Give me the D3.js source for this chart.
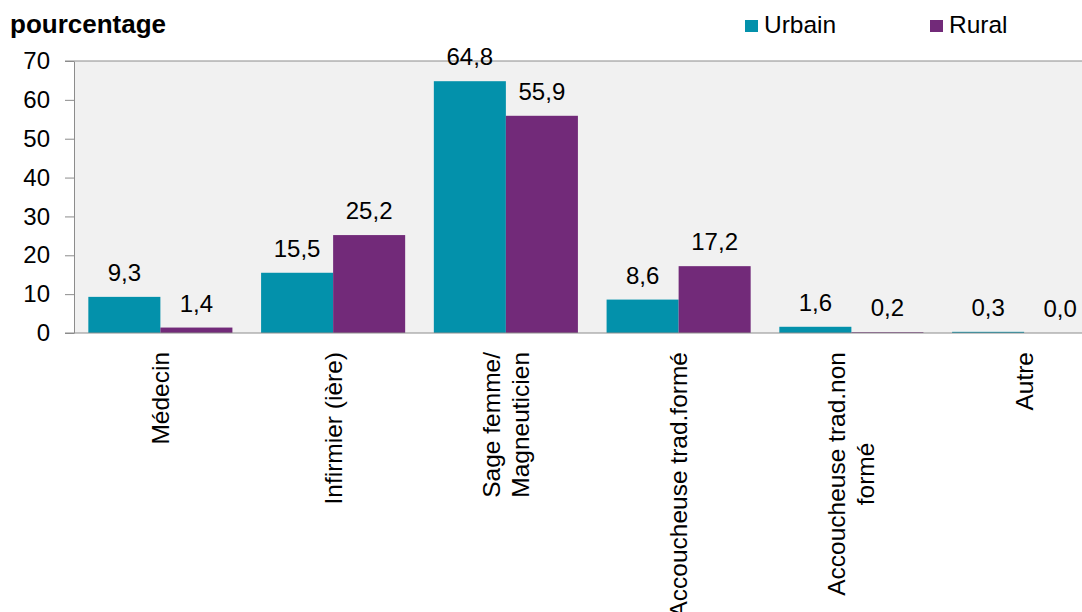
<!DOCTYPE html>
<html>
<head>
<meta charset="utf-8">
<script src="https://cdn.jsdelivr.net/npm/d3@7"></script>
<style>
    body { margin: 0; background: #fff; }
    svg { display: block; font-family: 'Liberation Sans', Arial, sans-serif; }
    .axis path, .axis line { stroke: #8c8c8c; }
    .axis text { font-size: 24px; fill: #000; }
</style>
</head>
<body>
<script>
(function() {

    // Data
    var categories = ['Médecin', 'Infirmier (ière)', 'Sage femme/\nMagneuticien',
                      'Accoucheuse trad.formé', 'Accoucheuse trad.non\nformé', 'Autre'];
    var series = ['Urbain', 'Rural'];
    var urbain = [9.3, 15.5, 64.8, 8.6, 1.6, 0.3];
    var rural = [1.4, 25.2, 55.9, 17.2, 0.2, 0.0];
    var yTicks = [0, 10, 20, 30, 40, 50, 60, 70];
    var colors = ['#0391ab', '#722a79'];

    var width = 1082, height = 612;
    var plot = {left: 74, top: 61, bottom: 333, right: 74 + 6 * 172.75};

    var svg = d3.select('body').append('svg')
        .attr('width', width)
        .attr('height', height);

    // Scales
    var x = d3.scaleBand().domain(categories)
        .range([plot.left, plot.right])
        .paddingInner(0.166).paddingOuter(0.083);
    var xSub = d3.scaleBand().domain(series).range([0, x.bandwidth()]);
    var y = d3.scaleLinear().domain([0, 70]).range([plot.bottom, plot.top]);
    var color = d3.scaleOrdinal().domain(series).range(colors);

    var fmt = function(v) { return d3.format('.1f')(v).replace('.', ','); };

    // Plot background
    svg.append('rect')
        .attr('x', plot.left).attr('y', plot.top)
        .attr('width', plot.right - plot.left)
        .attr('height', plot.bottom - plot.top)
        .attr('fill', '#f1f1f1');

    // Top border
    svg.append('line')
        .attr('x1', plot.left - 9).attr('x2', plot.right)
        .attr('y1', y(70)).attr('y2', y(70))
        .attr('stroke', '#8c8c8c');

    // Bars
    var rows = categories.map(function(c, i) {
        return {cat: c, values: [{key: 'Urbain', v: urbain[i]}, {key: 'Rural', v: rural[i]}]};
    });

    var group = svg.selectAll('.grp')
        .data(rows)
      .enter().append('g')
        .attr('class', 'grp')
        .attr('transform', function(d) { return 'translate(' + x(d.cat) + ',0)'; });

    group.selectAll('rect')
        .data(function(d) { return d.values; })
      .enter().append('rect')
        .attr('x', function(d) { return xSub(d.key); })
        .attr('y', function(d) { return y(d.v); })
        .attr('width', xSub.bandwidth())
        .attr('height', function(d) { return y(0) - y(d.v); })
        .attr('fill', function(d) { return color(d.key); });

    // Value labels
    group.selectAll('text.val')
        .data(function(d) { return d.values; })
      .enter().append('text')
        .attr('class', 'val')
        .attr('x', function(d) { return xSub(d.key) + xSub.bandwidth() / 2; })
        .attr('y', function(d) { return y(d.v) - 16; })
        .attr('text-anchor', 'middle')
        .style('font-size', '24px')
        .text(function(d) { return fmt(d.v); });

    // Y axis
    svg.append('g')
        .attr('class', 'axis')
        .attr('transform', 'translate(' + plot.left + ',0)')
        .call(d3.axisLeft(y).tickValues(yTicks).tickSize(9).tickPadding(15).tickSizeOuter(0));

    // X axis line
    svg.append('line')
        .attr('x1', plot.left - 9).attr('x2', plot.right)
        .attr('y1', y(0)).attr('y2', y(0))
        .attr('stroke', '#8c8c8c');

    // X labels, rotated, top anchored
    var lineH = 29;
    var xl = svg.selectAll('.xlab')
        .data(categories)
      .enter().append('text')
        .attr('class', 'xlab')
        .style('font-size', '24.5px');

    xl.each(function(d) {
        var lines = d.split('\n');
        var t = d3.select(this);
        lines.forEach(function(l) {
            t.append('tspan').text(l);
        });
        var maxLen = 0;
        t.selectAll('tspan').each(function() {
            maxLen = Math.max(maxLen, this.getComputedTextLength());
        });
        var cx = x(d) + x.bandwidth() / 2;
        var top = 352;
        t.attr('text-anchor', 'middle')
            .attr('transform', 'translate(' + cx + ',' + (top + maxLen / 2) + ') rotate(-90)');
        t.selectAll('tspan')
            .attr('x', 0)
            .attr('y', function(_, i) { return (i - (lines.length - 1) / 2) * lineH; })
            .attr('dy', '0.35em');
    });

    // Title
    svg.append('text')
        .attr('x', 10).attr('y', 33)
        .style('font-size', '26px')
        .style('font-weight', 'bold')
        .text('pourcentage');

    // Legend
    var legX = [745, 930];
    var leg = svg.selectAll('.leg')
        .data(series)
      .enter().append('g')
        .attr('class', 'leg')
        .attr('transform', function(d, i) { return 'translate(' + legX[i] + ',0)'; });
    leg.append('rect')
        .attr('x', 0).attr('y', 20)
        .attr('width', 13).attr('height', 12)
        .attr('fill', function(d) { return color(d); });
    leg.append('text')
        .attr('x', 19).attr('y', 33)
        .style('font-size', '24.5px')
        .text(function(d) { return d; });

})();
</script>
</body>
</html>
